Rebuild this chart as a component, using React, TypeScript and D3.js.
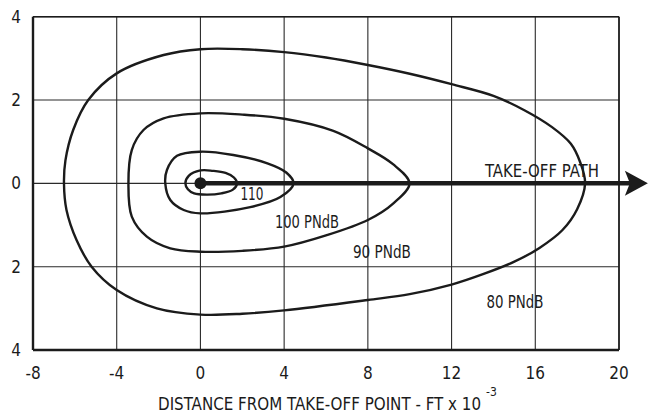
import React from "react";
import * as d3 from "d3";

// Axis ticks (thousands of feet)
const xTicks = [-8, -4, 0, 4, 8, 12, 16, 20];
const yTicks = [4, 2, 0, -2, -4];
const yTickLabels = ["4", "2", "0", "2", "4"];

// Noise contours: [distance along path, lateral distance], both in ft x 10^3
const contour80: [number, number][] = [
  [-6.52, 0], [-6.45, 0.55], [-6.08, 1.28], [-5.36, 2.0], [-4, 2.64], [-1.76, 3.08],
  [0, 3.22], [2, 3.22], [4, 3.15], [6, 3.02], [8, 2.84], [10, 2.63], [12, 2.38],
  [14, 2.1], [15.5, 1.75], [16.8, 1.35], [17.7, 0.95], [18.15, 0.5], [18.38, 0],
  [18.0, -0.62], [17.3, -1.12], [16.2, -1.55], [15, -1.88], [13.5, -2.18],
  [12, -2.43], [10, -2.66], [8, -2.8], [4, -3.05], [2, -3.13], [0, -3.15],
  [-2.08, -3.0], [-4, -2.56], [-5.2, -2.0], [-5.92, -1.36], [-6.4, -0.64],
];
const contour90: [number, number][] = [
  [-3.44, 0], [-3.28, 0.8], [-2.72, 1.28], [-1.76, 1.56], [0, 1.68], [2, 1.65],
  [4, 1.55], [6.35, 1.26], [8, 0.84], [9.2, 0.46], [9.99, 0], [9.22, -0.48],
  [8, -0.88], [6, -1.25], [4, -1.52], [2, -1.62], [0, -1.64], [-1.44, -1.56],
  [-2.56, -1.28], [-3.28, -0.8],
];
const contour100: [number, number][] = [
  [-1.68, 0], [-1.6, 0.32], [-1.12, 0.66], [0, 0.76], [1.57, 0.68], [3.2, 0.48],
  [4.1, 0.26], [4.45, 0], [3.82, -0.33], [2.38, -0.57], [0, -0.72], [-0.8, -0.64],
  [-1.44, -0.4],
];
const contour110: [number, number][] = [
  [-0.72, 0], [-0.56, 0.18], [0, 0.31], [0.6, 0.3], [1.2, 0.25], [1.6, 0.14],
  [1.75, 0], [1.55, -0.15], [1.0, -0.24], [0.3, -0.27], [-0.3, -0.24], [-0.6, -0.14],
];

const contours = [contour80, contour90, contour100, contour110];

// Contour labels: text, anchor point [x, y] in data units, set width in px
const labelTexts = ["110", "100 PNdB", "90 PNdB", "80 PNdB", "TAKE-OFF PATH"];
const labelPositions: [number, number][] = [
  [2.46, -0.4], [5.09, -1.07], [8.67, -1.79], [15.03, -2.99], [16.32, 0.15],
];
const labelWidths = [23, 64, 58, 57, 114];

// Take-off path
const pathStart = 0;
const pathEnd = 21.38;

const W = 649;
const H = 414;
const FONT = "'Liberation Sans Narrow', 'DejaVu Sans Condensed', 'Arial Narrow', sans-serif";
const INK = "#1b1b1b";

export default function App() {
  const x = d3.scaleLinear().domain([-8, 20]).range([33, 619]);
  const y = d3.scaleLinear().domain([-4, 4]).range([350, 16.7]);

  const line = d3
    .line<[number, number]>()
    .x((d) => x(d[0]))
    .y((d) => y(d[1]))
    .curve(d3.curveCatmullRomClosed.alpha(0.5));

  const tip = x(pathEnd);
  const headLen = 23;
  const headHalf = 12.5;
  const y0 = y(0);
  const head = `M${tip},${y0} L${tip - headLen},${y0 - headHalf} L${tip - headLen + 5},${y0} L${tip - headLen},${y0 + headHalf} Z`;

  return (
    <svg
      width={W}
      height={H}
      style={{ position: "absolute", left: 0, top: 0, background: "#fff" }}
    >
      <rect x={0} y={0} width={W} height={H} fill="#fff" />
      {/* grid */}
      {xTicks.map((t) => (
        <line key={"gx" + t} x1={x(t)} x2={x(t)} y1={y(4)} y2={y(-4)} stroke="#2a2a2a" strokeWidth={1.1} />
      ))}
      {yTicks.map((t) => (
        <line key={"gy" + t} x1={x(-8)} x2={x(20)} y1={y(t)} y2={y(t)} stroke="#2a2a2a" strokeWidth={1.1} />
      ))}
      {/* frame */}
      <line x1={x(-8)} x2={x(20)} y1={y(4)} y2={y(4)} stroke={INK} strokeWidth={1.6} />
      <line x1={x(20)} x2={x(20)} y1={y(4)} y2={y(-4)} stroke={INK} strokeWidth={1.6} />
      <line x1={x(-8)} x2={x(-8)} y1={y(4)} y2={y(-4)} stroke={INK} strokeWidth={2.4} />
      <line x1={x(-8)} x2={x(20)} y1={y(-4)} y2={y(-4)} stroke={INK} strokeWidth={2.4} />

      {/* contours */}
      {contours.map((c, i) => (
        <path key={"c" + i} d={line(c) ?? ""} fill="none" stroke={INK} strokeWidth={2.4} />
      ))}

      {/* take-off path */}
      <line x1={x(pathStart)} x2={tip - headLen + 6} y1={y0} y2={y0} stroke={INK} strokeWidth={4.5} />
      <path d={head} fill={INK} />
      <circle cx={x(0)} cy={y0} r={6} fill={INK} />

      {/* labels */}
      {labelTexts.map((t, i) => (
        <text
          key={"l" + i}
          x={x(labelPositions[i][0]) - labelWidths[i] / 2}
          y={y(labelPositions[i][1])}
          textLength={labelWidths[i]}
          lengthAdjust="spacingAndGlyphs"
          fontFamily={FONT}
          fontSize={17}
          fill={INK}
        >
          {t}
        </text>
      ))}

      {/* tick labels */}
      {yTicks.map((t, i) => (
        <text
          key={"ty" + i}
          x={16}
          y={y(t)}
          dy="0.35em"
          textAnchor="middle"
          fontFamily={FONT}
          fontSize={17}
          fill={INK}
        >
          {yTickLabels[i]}
        </text>
      ))}
      {xTicks.map((t) => (
        <text
          key={"tx" + t}
          x={x(t)}
          y={379}
          textAnchor="middle"
          fontFamily={FONT}
          fontSize={17}
          fill={INK}
        >
          {t}
        </text>
      ))}

      {/* axis title */}
      <text
        x={158}
        y={410}
        textLength={323}
        lengthAdjust="spacingAndGlyphs"
        fontFamily={FONT}
        fontSize={17}
        fill={INK}
      >
        DISTANCE FROM TAKE-OFF POINT - FT x 10
      </text>
      <text x={486} y={396} fontFamily={FONT} fontSize={12} fill={INK}>
        -3
      </text>
    </svg>
  );
}
